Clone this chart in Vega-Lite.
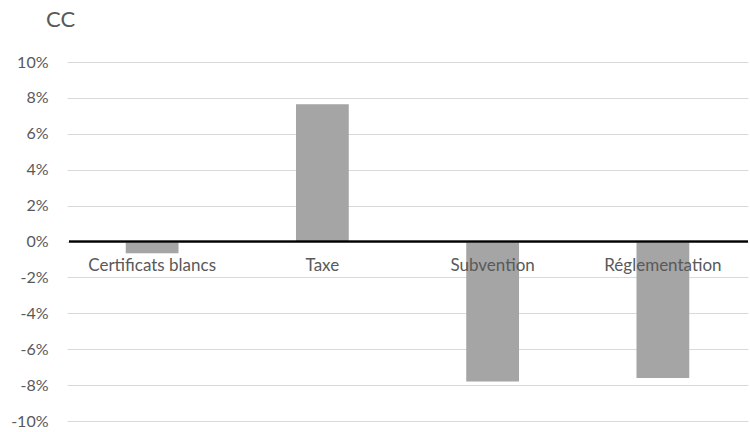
{
  "$schema": "https://vega.github.io/schema/vega-lite/v6.json",
  "width": 681,
  "height": 359,
  "autosize": "none",
  "padding": {"left": 67, "top": 62, "right": 2, "bottom": 11},
  "background": "white",
  "title": {
    "text": "CC",
    "anchor": "start",
    "frame": "group",
    "dx": -21,
    "offset": 22,
    "fontSize": 22,
    "font": "Lato",
    "fontWeight": "normal",
    "color": "#595959"
  },
  "data": {
    "values": [
      {"instrument": "Certificats blancs", "value": -0.0065},
      {"instrument": "Taxe", "value": 0.0764},
      {"instrument": "Subvention", "value": -0.078},
      {"instrument": "Réglementation", "value": -0.076}
    ]
  },
  "config": {
    "view": {"stroke": null},
    "axis": {"labelFont": "Lato", "labelColor": "#595959", "labelFontSize": 16}
  },
  "encoding": {
    "x": {
      "field": "instrument",
      "type": "nominal",
      "sort": null,
      "scale": {"paddingInner": 0.69, "paddingOuter": 0.345},
      "axis": null
    }
  },
  "layer": [
    {
      "mark": {"type": "bar", "color": "#A5A5A5"},
      "encoding": {
        "y": {
          "field": "value",
          "type": "quantitative",
          "scale": {"domain": [-0.1, 0.1], "nice": false},
          "axis": {
            "title": null,
            "values": [-0.1, -0.08, -0.06, -0.04, -0.02, 0, 0.02, 0.04, 0.06, 0.08, 0.1],
            "tickCount": 11,
            "labelExpr": "replace(format(datum.value, '.0%'), '\u2212', '-')",
            "labelOverlap": false,
            "domain": false,
            "ticks": false,
            "labelPadding": 19,
            "gridColor": "#d9d9d9",
            "gridWidth": 1
          }
        }
      }
    },
    {
      "mark": {"type": "rule", "color": "#000000", "strokeWidth": 1.3},
      "encoding": {"y": {"datum": 0}, "x": {"value": 2}, "x2": {"value": 681}}
    },
    {
      "mark": {"type": "text", "baseline": "top", "dy": 16, "font": "Lato", "fontSize": 17, "color": "#595959"},
      "encoding": {
        "y": {"datum": 0},
        "text": {"field": "instrument"}
      }
    }
  ]
}
